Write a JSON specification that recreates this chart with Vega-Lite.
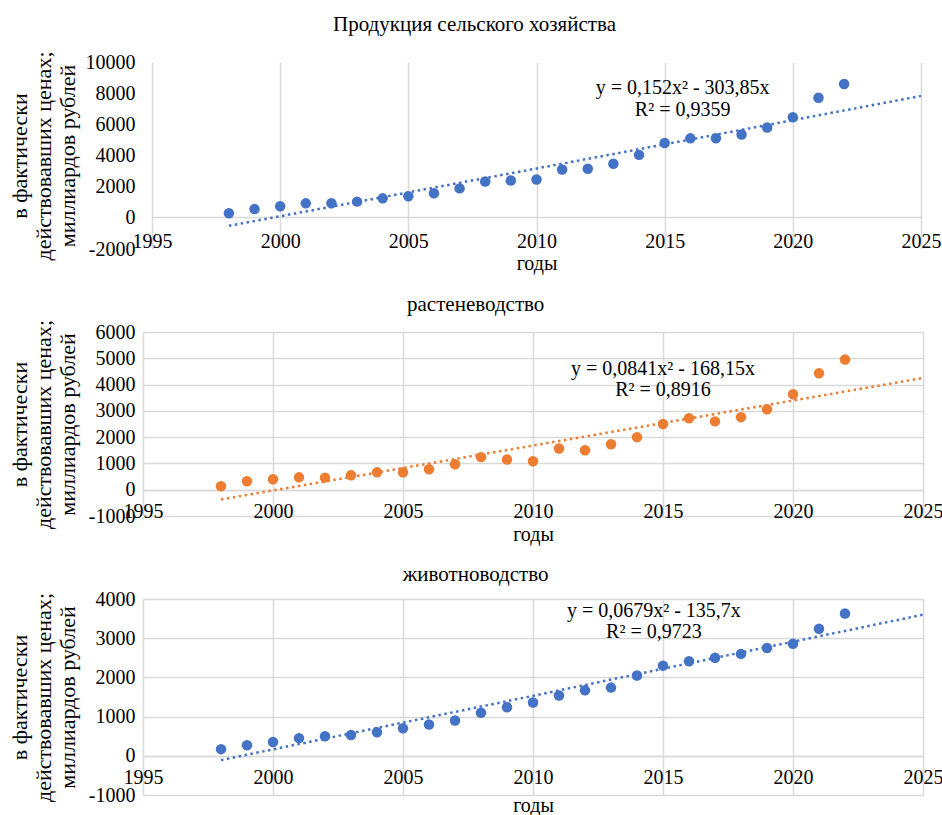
{
  "$schema": "https://vega.github.io/schema/vega-lite/v6.json",
  "padding": {"left": 8, "top": 14, "right": 0, "bottom": 0},
  "spacing": 20,
  "config": {
    "locale": {"number": {"decimal": ",", "thousands": " ", "grouping": [3], "currency": ["", " ₽"], "minus": "-"}},
    "font": "Liberation Serif",
    "view": {"stroke": null},
    "axis": {
      "labelFont": "Liberation Serif",
      "titleFont": "Liberation Serif",
      "labelFontSize": 20,
      "titleFontSize": 20,
      "labelColor": "#000000",
      "titleColor": "#000000",
      "titleFontWeight": "normal",
      "gridColor": "#d9d9d9",
      "gridWidth": 1.5,
      "ticks": false,
      "domain": false,
      "format": "d"
    },
    "text": {"font": "Liberation Serif"},
    "title": {"font": "Liberation Serif", "fontWeight": "normal", "color": "#000000", "frame": "bounds", "anchor": "middle"}
  },
  "datasets": {
    "total": [
      {"year": 1998, "value": 290}, {"year": 1999, "value": 560}, {"year": 2000, "value": 740},
      {"year": 2001, "value": 930}, {"year": 2002, "value": 940}, {"year": 2003, "value": 1040},
      {"year": 2004, "value": 1250}, {"year": 2005, "value": 1380}, {"year": 2006, "value": 1580},
      {"year": 2007, "value": 1890}, {"year": 2008, "value": 2330}, {"year": 2009, "value": 2400},
      {"year": 2010, "value": 2460}, {"year": 2011, "value": 3100}, {"year": 2012, "value": 3150},
      {"year": 2013, "value": 3470}, {"year": 2014, "value": 4040}, {"year": 2015, "value": 4800},
      {"year": 2016, "value": 5100}, {"year": 2017, "value": 5110}, {"year": 2018, "value": 5350},
      {"year": 2019, "value": 5800}, {"year": 2020, "value": 6450}, {"year": 2021, "value": 7710},
      {"year": 2022, "value": 8590}
    ],
    "total_trend": [
      {"year": 1998, "value": -510}, {"year": 2010, "value": 3165}, {"year": 2025, "value": 7820}
    ],
    "total_eq": [
      {"year": 2015.7, "value": 8330, "label": "y = 0,152x² - 303,85x"},
      {"year": 2015.7, "value": 6900, "label": "R² = 0,9359"}
    ],
    "total_grid": [
      {"tick": -2000}, {"tick": 0}, {"tick": 2000}, {"tick": 4000}, {"tick": 6000}, {"tick": 8000}, {"tick": 10000}
    ],
    "crops": [
      {"year": 1998, "value": 130}, {"year": 1999, "value": 320}, {"year": 2000, "value": 400},
      {"year": 2001, "value": 470}, {"year": 2002, "value": 460}, {"year": 2003, "value": 550},
      {"year": 2004, "value": 660}, {"year": 2005, "value": 660}, {"year": 2006, "value": 780},
      {"year": 2007, "value": 970}, {"year": 2008, "value": 1240}, {"year": 2009, "value": 1150},
      {"year": 2010, "value": 1080}, {"year": 2011, "value": 1570}, {"year": 2012, "value": 1500},
      {"year": 2013, "value": 1730}, {"year": 2014, "value": 2000}, {"year": 2015, "value": 2500},
      {"year": 2016, "value": 2720}, {"year": 2017, "value": 2600}, {"year": 2018, "value": 2760},
      {"year": 2019, "value": 3060}, {"year": 2020, "value": 3630}, {"year": 2021, "value": 4430},
      {"year": 2022, "value": 4950}
    ],
    "crops_trend": [
      {"year": 1998, "value": -370}, {"year": 2010, "value": 1680}, {"year": 2025, "value": 4250}
    ],
    "crops_eq": [
      {"year": 2015, "value": 4575, "label": "y = 0,0841x² - 168,15x"},
      {"year": 2015, "value": 3800, "label": "R² = 0,8916"}
    ],
    "livestock": [
      {"year": 1998, "value": 170}, {"year": 1999, "value": 270}, {"year": 2000, "value": 350},
      {"year": 2001, "value": 450}, {"year": 2002, "value": 500}, {"year": 2003, "value": 530},
      {"year": 2004, "value": 600}, {"year": 2005, "value": 700}, {"year": 2006, "value": 800},
      {"year": 2007, "value": 900}, {"year": 2008, "value": 1100}, {"year": 2009, "value": 1240},
      {"year": 2010, "value": 1360}, {"year": 2011, "value": 1540}, {"year": 2012, "value": 1670},
      {"year": 2013, "value": 1740}, {"year": 2014, "value": 2050}, {"year": 2015, "value": 2300},
      {"year": 2016, "value": 2410}, {"year": 2017, "value": 2500}, {"year": 2018, "value": 2600},
      {"year": 2019, "value": 2750}, {"year": 2020, "value": 2860}, {"year": 2021, "value": 3240},
      {"year": 2022, "value": 3630}
    ],
    "livestock_trend": [
      {"year": 1998, "value": -110}, {"year": 2010, "value": 1530}, {"year": 2025, "value": 3600}
    ],
    "livestock_eq": [
      {"year": 2014.65, "value": 3690, "label": "y = 0,0679x² - 135,7x"},
      {"year": 2014.65, "value": 3150, "label": "R² = 0,9723"}
    ]
  },
  "vconcat": [
    {
      "width": 778,
      "height": 187,
      "title": {"text": "Продукция сельского хозяйства", "fontSize": 21, "offset": 16},
      "encoding": {
        "x": {"field": "year", "type": "quantitative",
              "scale": {"domain": [1995, 2025], "nice": false, "zero": false, "range": [9, 778]},
              "axis": {"values": [1995, 2000, 2005, 2010, 2015, 2020, 2025], "format": "d", "offset": -32,
                       "labelFont": "Liberation Serif", "titleFont": "Liberation Serif", "labelFlush": false,
                       "labelPadding": 14, "title": "годы", "titlePadding": 2, "grid": true, "domain": true, "domainColor": "#d9d9d9", "domainWidth": 1.5}},
        "y": {"field": "value", "type": "quantitative",
              "scale": {"domain": [-2000, 10000], "nice": false},
              "axis": {"values": [-2000, 0, 2000, 4000, 6000, 8000, 10000], "format": "d", "labelPadding": 8,
                       "labelFont": "Liberation Serif", "titleFont": "Liberation Serif", "titleFontSize": 22,
                       "title": ["в фактически", "действовавших ценах;", "миллиардов рублей"],
                       "titleLineHeight": 24, "titlePadding": 6, "grid": false}}
      },
      "layer": [
        {"data": {"name": "total_grid"}, "mark": {"type": "rule", "color": "#d9d9d9", "strokeWidth": 1.5},
         "encoding": {"x": {"datum": 1995, "type": "quantitative"}, "x2": {"datum": 2025}, "y": {"field": "tick", "type": "quantitative"}}},
        {"data": {"name": "total_trend"}, "mark": {"type": "line", "color": "#4472C4", "strokeWidth": 2.5, "strokeDash": [2.5, 3.5], "strokeCap": "butt"}},
        {"data": {"name": "total"}, "mark": {"type": "circle", "color": "#4472C4", "size": 110, "opacity": 1}},
        {"data": {"name": "total_eq"}, "mark": {"type": "text", "fontSize": 20, "font": "Liberation Serif", "align": "center", "baseline": "middle", "color": "#000000"},
         "encoding": {"text": {"field": "label", "type": "nominal"}}}
      ]
    },
    {
      "width": 780,
      "height": 184,
      "title": {"text": "растеневодство", "fontSize": 21, "offset": 5},
      "encoding": {
        "x": {"field": "year", "type": "quantitative",
              "scale": {"domain": [1995, 2025], "nice": false, "zero": false},
              "axis": {"values": [1995, 2000, 2005, 2010, 2015, 2020, 2025], "format": "d", "offset": -26,
                       "labelFont": "Liberation Serif", "titleFont": "Liberation Serif", "labelFlush": false,
                       "labelPadding": 11, "title": "годы", "titlePadding": 3, "grid": true, "domain": true, "domainColor": "#d9d9d9", "domainWidth": 1.5}},
        "y": {"field": "value", "type": "quantitative",
              "scale": {"domain": [-1000, 6000], "nice": false},
              "axis": {"values": [-1000, 0, 1000, 2000, 3000, 4000, 5000, 6000], "format": "d", "labelPadding": 8,
                       "labelFont": "Liberation Serif", "titleFont": "Liberation Serif", "titleFontSize": 22,
                       "title": ["в фактически", "действовавших ценах;", "миллиардов рублей"],
                       "titleLineHeight": 24, "titlePadding": 9, "grid": true}}
      },
      "layer": [
        {"data": {"name": "crops_trend"}, "mark": {"type": "line", "color": "#ED7D31", "strokeWidth": 2.5, "strokeDash": [2.5, 3.5], "strokeCap": "butt"}},
        {"data": {"name": "crops"}, "mark": {"type": "circle", "color": "#ED7D31", "size": 110, "opacity": 1}},
        {"data": {"name": "crops_eq"}, "mark": {"type": "text", "fontSize": 20, "font": "Liberation Serif", "align": "center", "baseline": "middle", "color": "#000000"},
         "encoding": {"text": {"field": "label", "type": "nominal"}}}
      ]
    },
    {
      "width": 780,
      "height": 196,
      "title": {"text": "животноводство", "fontSize": 21, "offset": 4},
      "encoding": {
        "x": {"field": "year", "type": "quantitative",
              "scale": {"domain": [1995, 2025], "nice": false, "zero": false},
              "axis": {"values": [1995, 2000, 2005, 2010, 2015, 2020, 2025], "format": "d", "offset": -39,
                       "labelFont": "Liberation Serif", "titleFont": "Liberation Serif", "labelFlush": false,
                       "labelPadding": 11, "title": "годы", "titlePadding": 8, "grid": true, "domain": true, "domainColor": "#d9d9d9", "domainWidth": 1.5}},
        "y": {"field": "value", "type": "quantitative",
              "scale": {"domain": [-1000, 4000], "nice": false},
              "axis": {"values": [-1000, 0, 1000, 2000, 3000, 4000], "format": "d", "labelPadding": 8,
                       "labelFont": "Liberation Serif", "titleFont": "Liberation Serif", "titleFontSize": 22,
                       "title": ["в фактически", "действовавших ценах;", "миллиардов рублей"],
                       "titleLineHeight": 24, "titlePadding": 9, "grid": true}}
      },
      "layer": [
        {"data": {"name": "livestock_trend"}, "mark": {"type": "line", "color": "#4472C4", "strokeWidth": 2.5, "strokeDash": [2.5, 3.5], "strokeCap": "butt"}},
        {"data": {"name": "livestock"}, "mark": {"type": "circle", "color": "#4472C4", "size": 110, "opacity": 1}},
        {"data": {"name": "livestock_eq"}, "mark": {"type": "text", "fontSize": 20, "font": "Liberation Serif", "align": "center", "baseline": "middle", "color": "#000000"},
         "encoding": {"text": {"field": "label", "type": "nominal"}}}
      ]
    }
  ]
}
